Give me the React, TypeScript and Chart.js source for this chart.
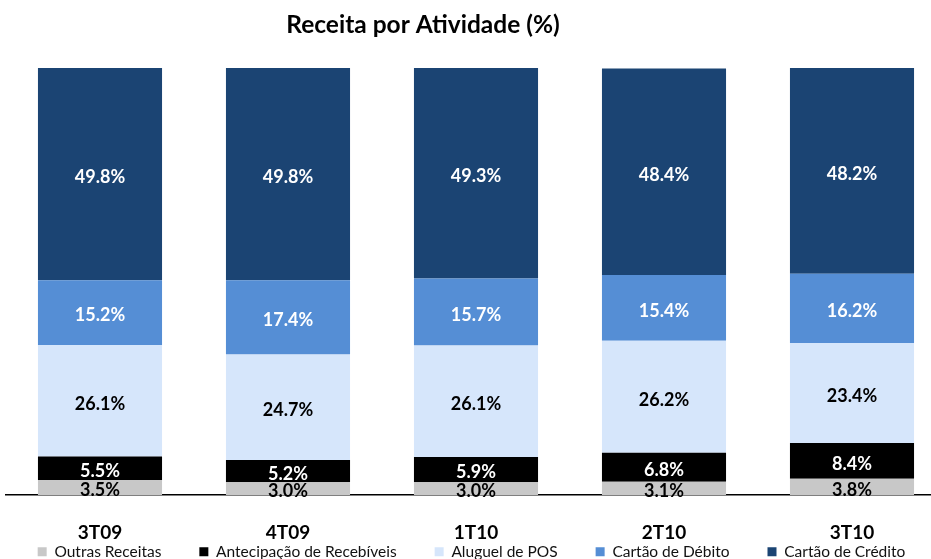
import React, { useEffect, useRef } from 'react';
import { Chart, registerables } from 'chart.js';

Chart.register(...registerables);

const chartTitle = 'Receita por Atividade (%)';
const categories = ['3T09', '4T09', '1T10', '2T10', '3T10'];
const seriesNames = [
  'Outras Receitas',
  'Antecipação de Recebíveis',
  'Aluguel de POS',
  'Cartão de Débito',
  'Cartão de Crédito',
];
const outrasReceitas = [3.5, 3.0, 3.0, 3.1, 3.8];
const antecipacao = [5.5, 5.2, 5.9, 6.8, 8.4];
const aluguelPOS = [26.1, 24.7, 26.1, 26.2, 23.4];
const cartaoDebito = [15.2, 17.4, 15.7, 15.4, 16.2];
const cartaoCredito = [49.8, 49.8, 49.3, 48.4, 48.2];

const seriesColors = ['#C8C8C8', '#000000', '#D6E6FB', '#558ED5', '#1B4473'];
const labelColors = ['#000000', '#FFFFFF', '#000000', '#FFFFFF', '#FFFFFF'];
const FONT = 'Lato, "Open Sans", sans-serif';

const CANVAS_W = 946;
const CANVAS_H = 559;
const LEGEND_PAD = 38;
const LEGEND_H = 17;
const XAXIS_H = 47;

const valueLabels = {
  id: 'valueLabels',
  afterDatasetsDraw(chart: any) {
    const ctx = chart.ctx;
    ctx.save();
    ctx.font = `bold 18px ${FONT}`;
    ctx.textAlign = 'center';
    ctx.textBaseline = 'middle';
    chart.data.datasets.forEach((ds: any, di: number) => {
      const meta = chart.getDatasetMeta(di);
      meta.data.forEach((el: any, i: number) => {
        const v = ds.data[i] as number;
        ctx.fillStyle = labelColors[di];
        ctx.fillText(v.toFixed(1) + '%', el.x, (el.y + el.base) / 2 + 3);
      });
    });
    ctx.restore();
  },
};

const titlePlugin = {
  id: 'customTitle',
  afterDraw(chart: any) {
    const ctx = chart.ctx;
    ctx.save();
    ctx.font = `bold 24.5px ${FONT}`;
    ctx.fillStyle = '#000000';
    ctx.textAlign = 'center';
    ctx.textBaseline = 'middle';
    ctx.fillText(chartTitle, 423, 25);
    ctx.restore();
  },
};

const legendFit = {
  id: 'legendFit',
  beforeLayout(chart: any) {
    const lg: any = chart.legend;
    if (lg && !lg.__patched) {
      const orig = lg.fit;
      lg.fit = function () {
        const mw = this.maxWidth;
        this.maxWidth = 3000;
        orig.call(this);
        this.maxWidth = mw;
        this.width = mw;
        this.height = LEGEND_H;
      };
      lg.__patched = true;
    }
  },
  afterLayout(chart: any) {
    const lg: any = chart.legend;
    if (lg) {
      // keep the single legend row in the bottom band, centred like the source
      lg.top = lg.top - LEGEND_PAD + 2;
      lg.left = lg.left - 64.5;
      lg.right = lg.right + 55.5;
    }
  },
};

export default function App() {
  const ref = useRef<HTMLCanvasElement | null>(null);

  useEffect(() => {
    if (!ref.current) return;
    const seriesData = [outrasReceitas, antecipacao, aluguelPOS, cartaoDebito, cartaoCredito];
    const chart = new Chart(ref.current, {
      type: 'bar',
      data: {
        labels: categories,
        datasets: seriesData.map((d, i) => ({
          label: seriesNames[i],
          data: d,
          backgroundColor: seriesColors[i],
          borderWidth: 0,
          barPercentage: 0.66,
          categoryPercentage: 1,
        })),
      },
      options: {
        responsive: false,
        animation: false,
        devicePixelRatio: 1,
        layout: { padding: { top: 68, left: 6, right: 0, bottom: 0 } },
        plugins: {
          legend: {
            position: 'bottom',
            labels: {
              boxWidth: 9,
              boxHeight: 9,
              padding: LEGEND_PAD,
              color: '#111111',
              font: { family: FONT, size: 15.5 },
            },
          },
          title: { display: false },
          tooltip: { enabled: false },
        },
        scales: {
          x: {
            stacked: true,
            grid: { display: false, drawTicks: false },
            border: { display: true, color: '#000000', width: 1.5 },
            ticks: {
              padding: 26,
              color: '#000000',
              font: { family: FONT, size: 19, weight: 'bold' },
            },
            afterFit: (s: any) => {
              s.height = XAXIS_H;
            },
          },
          y: {
            stacked: true,
            display: false,
            min: 0,
            max: 100,
          },
        },
      },
      plugins: [valueLabels, titlePlugin, legendFit],
    } as any);
    return () => chart.destroy();
  }, []);

  return (
    <div
      style={{
        position: 'fixed',
        left: 0,
        top: 0,
        width: 931,
        height: 559,
        overflow: 'hidden',
        background: '#ffffff',
      }}
    >
      <canvas ref={ref} width={CANVAS_W} height={CANVAS_H} style={{ display: 'block' }} />
    </div>
  );
}
